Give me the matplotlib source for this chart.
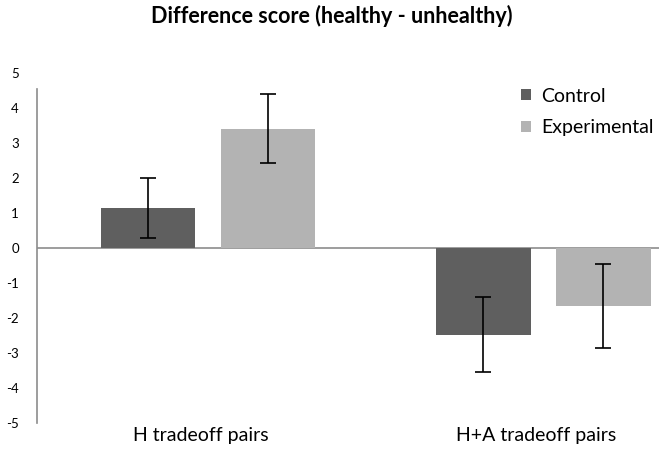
import numpy as np
import matplotlib
matplotlib.use("Agg")
import matplotlib.pyplot as plt

plt.rcParams['font.family'] = ['Lato', 'DejaVu Sans']

categories = ["H tradeoff pairs", "H+A tradeoff pairs"]
series = ["Control", "Experimental"]
control = [1.14, -2.48]
control_err = [0.86, 1.07]
experimental = [3.41, -1.66]
experimental_err = [0.99, 1.21]
yticks = [-5, -4, -3, -2, -1, 0, 1, 2, 3, 4, 5]

DARK = "#5f5f5f"
LIGHT = "#b3b3b3"

fig = plt.figure(figsize=(6.59, 4.49), dpi=100)
ax = fig.add_axes([37 / 659, 1 - 423 / 449, 1 - 37 / 659, (423 - 73) / 449])

x = np.arange(len(categories))
w = 0.283
off = 0.179

ax.bar(x - off, control, w, color=DARK, label=series[0], zorder=2)
ax.bar(x + off, experimental, w, color=LIGHT, label=series[1], zorder=2)
ax.errorbar(x - off, control, yerr=control_err, fmt="none", ecolor="black",
            elinewidth=1.2, capsize=6, capthick=1.2, zorder=3)
ax.errorbar(x + off, experimental, yerr=experimental_err, fmt="none", ecolor="black",
            elinewidth=1.2, capsize=6, capthick=1.2, zorder=3)

ax.axhline(0, color="#8c8c8c", lw=1.2, zorder=1)

ax.set_xlim(-0.51, 1.345)
ax.set_ylim(-5, 5)
ax.set_yticks(yticks)
ax.set_yticklabels([str(t) for t in yticks], fontsize=9.5)
ax.set_xticks(x - 0.02)
ax.set_xticklabels(categories, fontsize=14)
ax.tick_params(axis="y", length=0, pad=13)
ax.tick_params(axis="x", length=0, pad=3)

for s in ["top", "right", "bottom"]:
    ax.spines[s].set_visible(False)
ax.spines["left"].set_color("#8c8c8c")
ax.spines["left"].set_linewidth(1.2)
ax.spines["left"].set_bounds(-5, 4.55)

ax.legend(loc="upper left", bbox_to_anchor=(513 / 659, 1 - 80 / 449),
          bbox_transform=fig.transFigure, frameon=False, fontsize=14,
          handlelength=0.5, handleheight=0.5, handletextpad=0.55,
          labelspacing=0.75, borderaxespad=0)

fig.text(332 / 659, 1 - 16 / 449, "Difference score (healthy - unhealthy)",
         ha="center", va="center", fontsize=15.5, fontweight="bold")

fig.savefig("out.png", dpi=100)
